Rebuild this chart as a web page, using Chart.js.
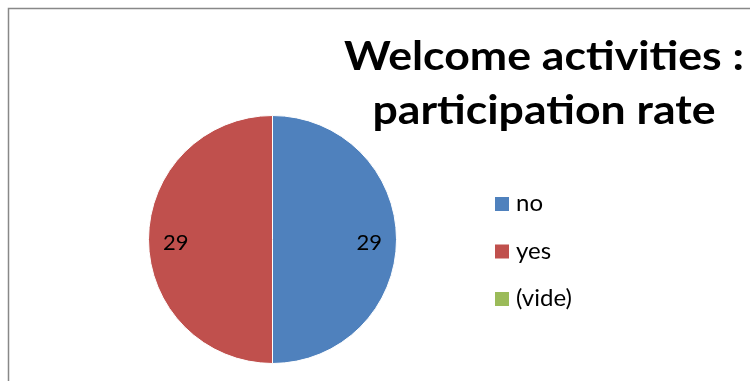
<!DOCTYPE html>
<html>
<head>
<meta charset="utf-8">
<script src="https://cdn.jsdelivr.net/npm/chart.js@4/dist/chart.umd.min.js"></script>
<style>
  html, body { margin: 0; padding: 0; background: #fff; }
  #wrap { position: relative; width: 750px; height: 381px; }
</style>
</head>
<body>
<div id="wrap"><canvas id="pieChart" width="750" height="381"></canvas></div>
<script>
const labels = ["no", "yes", "(vide)"];
const counts = [29, 29, 0];
const colors = ["#4F81BD", "#C0504D", "#9BBB59"];
const titleLines = ["Welcome activities :", "participation rate"];

const font = "Lato, 'Open Sans', sans-serif";

// frame, title and legend placed like the original spreadsheet chart
const decor = {
  id: "decor",
  beforeDraw(chart) {
    const ctx = chart.ctx;
    ctx.save();
    ctx.fillStyle = "#fff";
    ctx.fillRect(0, 0, chart.width, chart.height);
    ctx.strokeStyle = "#888";
    ctx.lineWidth = 1.5;
    ctx.strokeRect(8.5, 8.5, 760, 400);
    ctx.restore();
  },
  afterDraw(chart) {
    const ctx = chart.ctx;
    ctx.save();
    ctx.fillStyle = "#000";
    ctx.textAlign = "center";
    ctx.textBaseline = "alphabetic";
    ctx.font = "bold 40px " + font;
    // Calibri is narrower and taller than Lato, so stretch the title to its width
    const sx = 400 / ctx.measureText(titleLines[0]).width;
    titleLines.forEach((t, i) => {
      ctx.save();
      ctx.translate(544, 70 + i * 54);
      ctx.scale(sx, 1);
      ctx.fillText(t, 0, 0);
      ctx.restore();
    });

    ctx.textAlign = "left";
    ctx.font = "24px " + font;
    labels.forEach((l, i) => {
      const y = 211 + i * 47.5;
      ctx.fillStyle = colors[i];
      ctx.fillRect(495, y - 14, 14, 14);
      ctx.fillStyle = "#000";
      ctx.fillText(l, 516, y);
    });

    // value labels inside the slices
    const meta = chart.getDatasetMeta(0);
    ctx.textAlign = "center";
    ctx.textBaseline = "middle";
    ctx.font = "22px " + font;
    meta.data.forEach((arc, i) => {
      if (!counts[i]) return;
      const p = arc.getProps(["x", "y", "startAngle", "endAngle", "outerRadius"], true);
      const a = (p.startAngle + p.endAngle) / 2;
      const r = p.outerRadius * 0.78;
      ctx.fillText(String(counts[i]), p.x + Math.cos(a) * r, p.y + Math.sin(a) * r + 3);
    });
    ctx.restore();
  }
};

new Chart(document.getElementById("pieChart"), {
  type: "pie",
  data: {
    labels,
    datasets: [{ data: counts, backgroundColor: colors, borderColor: "#fff", borderWidth: 1 }]
  },
  options: {
    responsive: false,
    animation: false,
    layout: { padding: { left: 148, right: 353, top: 115, bottom: 17 } },
    plugins: { legend: { display: false }, title: { display: false }, tooltip: { enabled: false } }
  },
  plugins: [decor]
});
</script>
</body>
</html>
